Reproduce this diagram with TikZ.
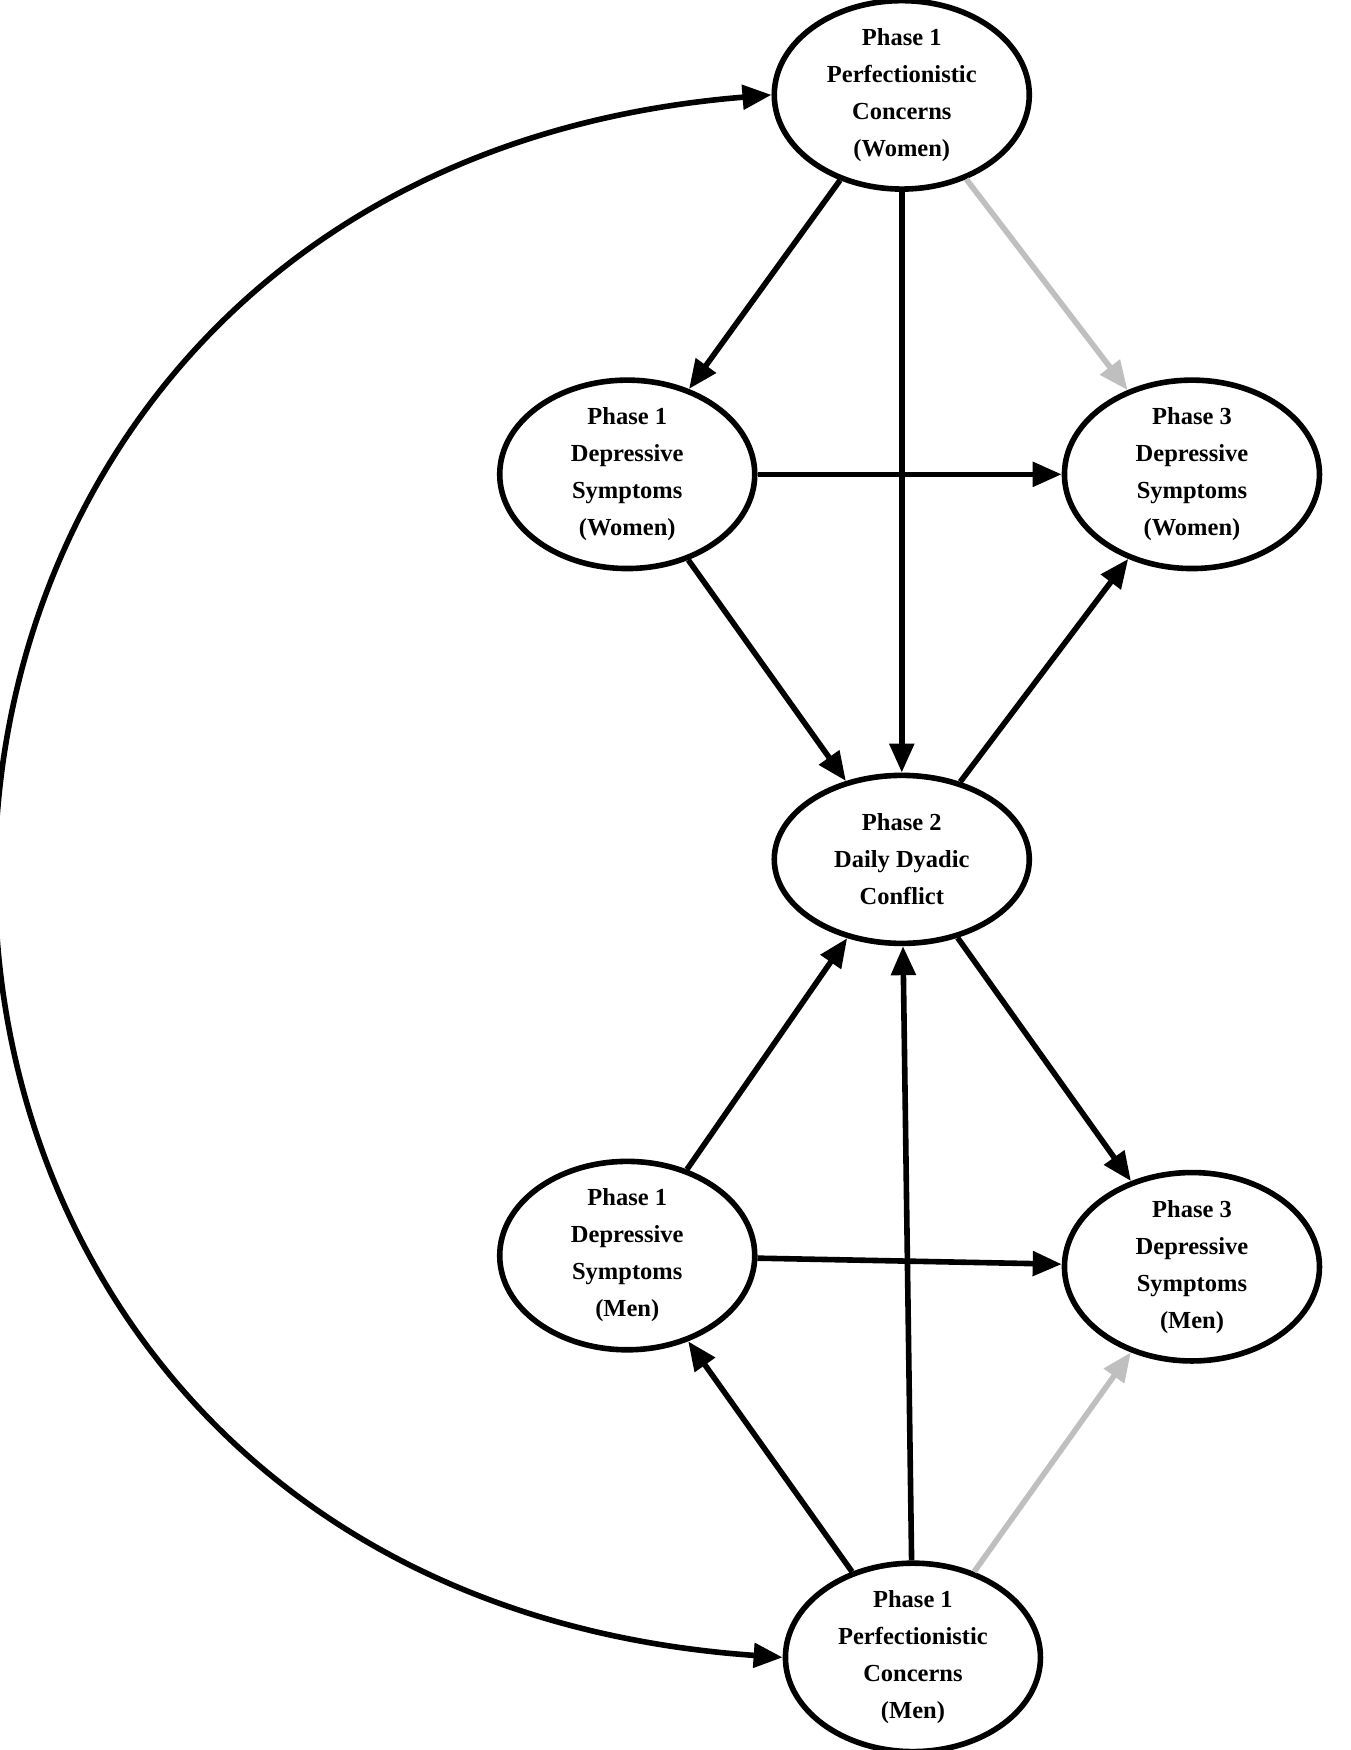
\documentclass[tikz,border=0pt]{standalone}
\usepackage{fontspec}
\setmainfont{Liberation Serif}
\usetikzlibrary{shapes.geometric,arrows.meta}
\begin{document}
\begin{tikzpicture}[x=1.116pt,y=-1.116pt,
 v/.style={ellipse,draw,line width=5.6pt,minimum width=255pt,minimum height=168pt,inner sep=0pt,align=center,font=\fontsize{24.5}{37}\selectfont\bfseries},
 a/.style={line width=5.6pt,-{Triangle[length=29pt,width=24pt]}},
 g/.style={a,draw=black!25}]
\useasboundingbox (0,0) rectangle (1210,1568);
\fill[white] (0,0) rectangle (1210,1568);
\node[v] (pcw) at (808,85) {Phase 1\\Perfectionistic\\Concerns\\(Women)};
\node[v] (dw1) at (562,425) {Phase 1\\Depressive\\Symptoms\\(Women)};
\node[v] (dw3) at (1068,425) {Phase 3\\Depressive\\Symptoms\\(Women)};
\node[v] (c) at (808,770) {Phase 2\\Daily Dyadic\\Conflict};
\node[v] (dm1) at (562,1125) {Phase 1\\Depressive\\Symptoms\\(Men)};
\node[v] (dm3) at (1068,1135) {Phase 3\\Depressive\\Symptoms\\(Men)};
\node[v,minimum height=178pt] (pcm) at (818,1485) {Phase 1\\Perfectionistic\\Concerns\\(Men)};
\draw[a] (pcw) -- (dw1);
\draw[a] (pcw) -- (c);
\draw[g] (pcw) -- (dw3);
\draw[a] (dw1) -- (dw3);
\draw[a] (dw1) -- (c);
\draw[a] (c) -- (dw3);
\draw[a] (c) -- (dm3);
\draw[a] (dm1) -- (c);
\draw[a] (pcm) -- (c);
\draw[a] (dm1) -- (dm3);
\draw[a] (pcm) -- (dm1);
\draw[g] (pcm) -- (dm3);
\draw[line width=5.6pt,{Triangle[length=29pt,width=24pt]}-{Triangle[length=29pt,width=24pt]}] (pcw.west) .. controls (-230,160) and (-230,1420) .. (pcm.west);
\end{tikzpicture}
\end{document}
